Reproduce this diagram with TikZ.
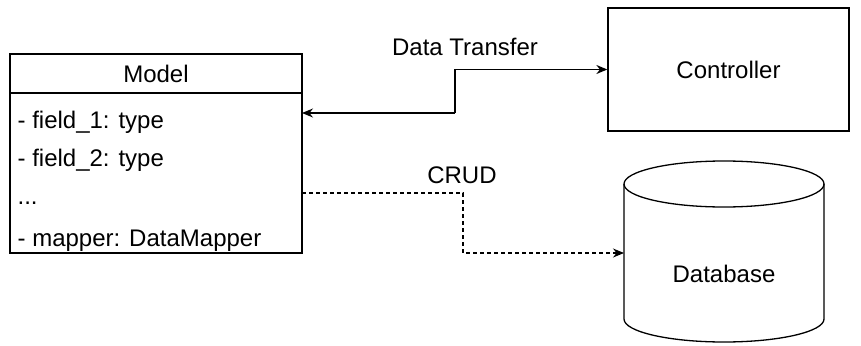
\documentclass[tikz,border=0pt]{standalone}
\usepackage{fontspec}
\setmainfont{Liberation Sans}
\usetikzlibrary{arrows.meta}
\begin{document}
\begin{tikzpicture}[x=1pt,y=-1pt,
  line width=1.3pt,
  lbl/.style={font=\fontsize{24}{28}\selectfont, inner sep=0pt},
  fieldtxt/.style={lbl, anchor=base west},
  tip/.style={-{Stealth[length=11pt,width=9pt]}}]
  \useasboundingbox (0,0) rectangle (861,345);

  % class box
  \draw (10,54) rectangle (302,253);
  \draw (10,93) -- (302,93);
  \node[lbl] (model) at (156,74) {Model};
  \node[fieldtxt] (f1) at (17,128) {- field\_1: type};
  \node[fieldtxt] (f2) at (17,166) {- field\_2: type};
  \node[fieldtxt] (f3) at (17,204) {...};
  \node[fieldtxt] (f4) at (17,246) {- mapper: DataMapper};
  \coordinate (mR) at (302,113);
  \coordinate (mD) at (302,193);

  % controller
  \node[draw, minimum width=241pt, minimum height=123pt, inner sep=0pt, lbl] (ctrl) at (728.5,69.5) {Controller};

  % database cylinder
  \draw (624,184) -- (624,319) arc[start angle=180, end angle=0, x radius=100, y radius=23] -- (824,184);
  \draw (724,184) ellipse[x radius=100, y radius=23];
  \node[lbl] (db) at (724,274) {Database};
  \coordinate (dbL) at (624,253);

  % connectors
  \draw[tip] (455,113) -- (mR);
  \draw[tip] (455,113) |- (ctrl.west);
  \node[lbl] (dt) at (465,47) {Data Transfer};

  \draw[tip, dashed, dash pattern=on 4pt off 3pt, line width=1.1pt] (mD) -| (463,253) -- (dbL);
  \node[lbl] (crud) at (462,175) {CRUD};
\end{tikzpicture}
\end{document}
